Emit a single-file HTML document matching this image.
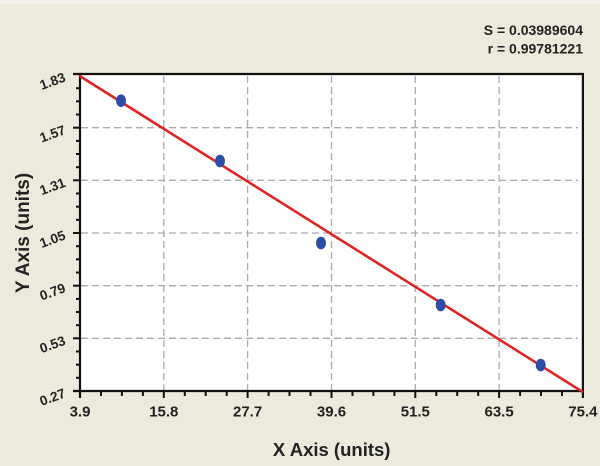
<!DOCTYPE html>
<html>
<head>
<meta charset="utf-8">
<style>
html,body{margin:0;padding:0;background:#ECEADA;}
svg{display:block;}
text{font-family:"Liberation Sans",Arial,sans-serif;font-weight:bold;fill:#222;}
</style>
</head>
<body>
<svg width="600" height="466" viewBox="0 0 600 466" xmlns="http://www.w3.org/2000/svg">
<rect x="0" y="0" width="600" height="466" fill="#ECEADA"/>
<rect x="0" y="0" width="600" height="4" fill="#F3F2EA"/>
<!-- plot area -->
<rect x="80" y="74" width="503" height="317" fill="#FFFFFF"/>
<!-- grid -->
<g stroke="#ABABAB" stroke-width="1.3" stroke-dasharray="7,4" fill="none">
<line x1="81" y1="127.7" x2="578" y2="127.7"/>
<line x1="81" y1="180.3" x2="578" y2="180.3"/>
<line x1="81" y1="233" x2="578" y2="233"/>
<line x1="81" y1="285.7" x2="578" y2="285.7"/>
<line x1="81" y1="338.3" x2="578" y2="338.3"/>
<line x1="163.8" y1="76" x2="163.8" y2="390"/>
<line x1="247.6" y1="76" x2="247.6" y2="390"/>
<line x1="331.5" y1="76" x2="331.5" y2="390"/>
<line x1="415.3" y1="76" x2="415.3" y2="390"/>
<line x1="499.1" y1="76" x2="499.1" y2="390"/>
</g>
<!-- border/axes -->
<g stroke="#111" stroke-width="2.2" fill="none">
<line x1="73" y1="74" x2="584" y2="74"/>
<line x1="582.9" y1="73" x2="582.9" y2="398"/>
<line x1="80" y1="73" x2="80" y2="398"/>
<line x1="73" y1="391" x2="584" y2="391"/>
</g>
<!-- y ticks -->
<g stroke="#111" stroke-width="2" fill="none">
<line x1="73" y1="127.7" x2="80" y2="127.7"/>
<line x1="73" y1="180.3" x2="80" y2="180.3"/>
<line x1="73" y1="233" x2="80" y2="233"/>
<line x1="73" y1="285.7" x2="80" y2="285.7"/>
<line x1="73" y1="338.3" x2="80" y2="338.3"/>
<line x1="76" y1="88.2" x2="80" y2="88.2"/>
<line x1="76" y1="101.3" x2="80" y2="101.3"/>
<line x1="76" y1="114.5" x2="80" y2="114.5"/>
<line x1="76" y1="140.9" x2="80" y2="140.9"/>
<line x1="76" y1="154" x2="80" y2="154"/>
<line x1="76" y1="167.2" x2="80" y2="167.2"/>
<line x1="76" y1="193.5" x2="80" y2="193.5"/>
<line x1="76" y1="206.7" x2="80" y2="206.7"/>
<line x1="76" y1="219.8" x2="80" y2="219.8"/>
<line x1="76" y1="246.2" x2="80" y2="246.2"/>
<line x1="76" y1="259.3" x2="80" y2="259.3"/>
<line x1="76" y1="272.5" x2="80" y2="272.5"/>
<line x1="76" y1="298.9" x2="80" y2="298.9"/>
<line x1="76" y1="312" x2="80" y2="312"/>
<line x1="76" y1="325.2" x2="80" y2="325.2"/>
<line x1="76" y1="351.5" x2="80" y2="351.5"/>
<line x1="76" y1="364.7" x2="80" y2="364.7"/>
<line x1="76" y1="377.8" x2="80" y2="377.8"/>
</g>
<!-- x ticks -->
<g stroke="#111" stroke-width="2" fill="none">
<line x1="163.8" y1="391" x2="163.8" y2="398"/>
<line x1="247.6" y1="391" x2="247.6" y2="398"/>
<line x1="331.5" y1="391" x2="331.5" y2="398"/>
<line x1="415.3" y1="391" x2="415.3" y2="398"/>
<line x1="499.1" y1="391" x2="499.1" y2="398"/>
<line x1="101" y1="391" x2="101" y2="396"/>
<line x1="121.9" y1="391" x2="121.9" y2="396"/>
<line x1="142.9" y1="391" x2="142.9" y2="396"/>
<line x1="184.8" y1="391" x2="184.8" y2="396"/>
<line x1="205.7" y1="391" x2="205.7" y2="396"/>
<line x1="226.7" y1="391" x2="226.7" y2="396"/>
<line x1="268.6" y1="391" x2="268.6" y2="396"/>
<line x1="289.5" y1="391" x2="289.5" y2="396"/>
<line x1="310.5" y1="391" x2="310.5" y2="396"/>
<line x1="352.5" y1="391" x2="352.5" y2="396"/>
<line x1="373.4" y1="391" x2="373.4" y2="396"/>
<line x1="394.4" y1="391" x2="394.4" y2="396"/>
<line x1="436.3" y1="391" x2="436.3" y2="396"/>
<line x1="457.2" y1="391" x2="457.2" y2="396"/>
<line x1="478.2" y1="391" x2="478.2" y2="396"/>
<line x1="520.1" y1="391" x2="520.1" y2="396"/>
<line x1="541" y1="391" x2="541" y2="396"/>
<line x1="562" y1="391" x2="562" y2="396"/>
</g>
<!-- y tick labels -->
<g font-size="13.5" text-anchor="middle">
<text transform="translate(52.5,81) rotate(-20)" dy="0.35em">1.83</text>
<text transform="translate(52.5,133.7) rotate(-20)" dy="0.35em">1.57</text>
<text transform="translate(52.5,186.3) rotate(-20)" dy="0.35em">1.31</text>
<text transform="translate(52.5,239) rotate(-20)" dy="0.35em">1.05</text>
<text transform="translate(52.5,291.7) rotate(-20)" dy="0.35em">0.79</text>
<text transform="translate(52.5,344.3) rotate(-20)" dy="0.35em">0.53</text>
<text transform="translate(52.5,397) rotate(-20)" dy="0.35em">0.27</text>
</g>
<!-- x tick labels -->
<g font-size="15" text-anchor="middle">
<text x="80" y="416.5">3.9</text>
<text x="163.8" y="416.5">15.8</text>
<text x="247.6" y="416.5">27.7</text>
<text x="331.5" y="416.5">39.6</text>
<text x="415.3" y="416.5">51.5</text>
<text x="499.1" y="416.5">63.5</text>
<text x="582.9" y="416.5">75.4</text>
</g>
<!-- axis titles -->
<text x="331.7" y="456" font-size="18.5" text-anchor="middle">X Axis (units)</text>
<text transform="translate(29,233) rotate(-90)" font-size="19" text-anchor="middle">Y Axis (units)</text>
<!-- stats -->
<text x="583" y="35" font-size="14" text-anchor="end">S = 0.03989604</text>
<text x="583" y="53.5" font-size="14" text-anchor="end">r = 0.99781221</text>
<!-- fit line -->
<line x1="80.5" y1="76.5" x2="582" y2="391.5" stroke="#E02424" stroke-width="2.6" stroke-linecap="round"/>
<!-- points -->
<g fill="#2D4CA8">
<ellipse cx="121" cy="100.7" rx="5" ry="6.3"/>
<ellipse cx="220" cy="161" rx="5" ry="6.3"/>
<ellipse cx="321" cy="243" rx="5" ry="6.3"/>
<ellipse cx="440.7" cy="305" rx="5" ry="6.3"/>
<ellipse cx="540.7" cy="365" rx="5" ry="6.3"/>
</g>
</svg>
</body>
</html>
